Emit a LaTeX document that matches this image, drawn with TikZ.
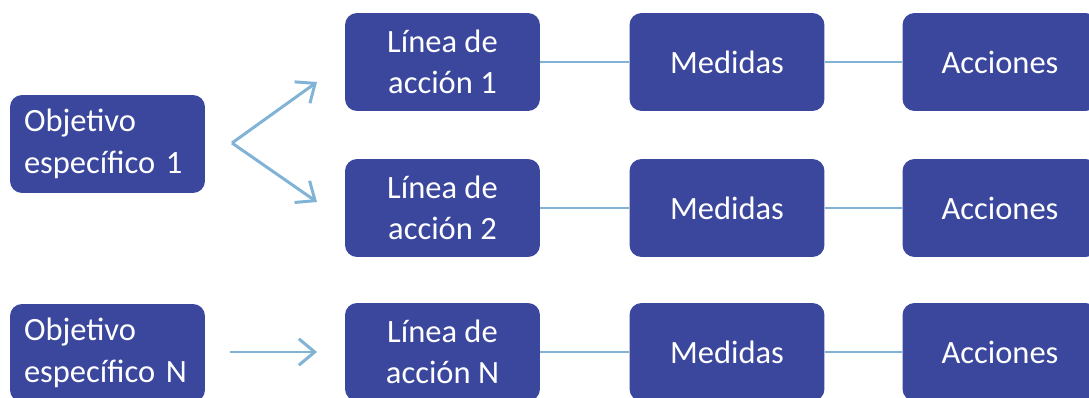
\documentclass[tikz,border=0pt]{standalone}
\usepackage{fontspec}
\setmainfont{Carlito}
\usetikzlibrary{arrows.meta}
\definecolor{boxblue}{HTML}{3B479D}
\definecolor{linkblue}{HTML}{80B3D6}

\begin{document}
\begin{tikzpicture}[
    x=0.02cm, y=-0.02cm,
    box/.style = {fill=boxblue, text=white, rounded corners=0.24cm,
      minimum width=3.9cm, minimum height=1.96cm, align=center,
      inner sep=0pt, font=\fontsize{18.5}{23.6}\selectfont},
    objbox/.style = {box, align=left, text width=3.34cm},
    link/.style = {linkblue, line width=1.7pt},
    arr/.style = {link, -{Straight Barb[length=9pt,width=15pt,line width=1.7pt]}}
  ]
    \clip (0,0) rectangle (1089,398);
    \node[objbox] (obj1) at (107.5,144) {Objetivo\\específico 1};
    \node[objbox] (objN) at (107.5,353) {Objetivo\\específico N};
    \node[box] (lin1) at (442.5,62) {Línea de\\acción 1};
    \node[box] (lin2) at (442.5,208) {Línea de\\acción 2};
    \node[box] (linN) at (442.5,352) {Línea de\\acción N};
    \node[box] (med1) at (727,62) {Medidas};
    \node[box] (med2) at (727,208) {Medidas};
    \node[box] (medN) at (727,352) {Medidas};
    \node[box] (acc1) at (1000,62) {Acciones};
    \node[box] (acc2) at (1000,208) {Acciones};
    \node[box] (accN) at (1000,352) {Acciones};
    % arrows from the objectives
    \coordinate (fork) at (232,143);
    \coordinate (end1) at (317,82);
    \coordinate (end2) at (317,202);
    \coordinate (startN) at (230,352);
    \coordinate (endN) at (317,352);
    \draw[arr] (fork) -- (end1);
    \draw[arr] (fork) -- (end2);
    \draw[arr] (startN) -- (endN);
    % links along each row
    \draw[link] (lin1) -- (med1) (med1) -- (acc1);
    \draw[link] (lin2) -- (med2) (med2) -- (acc2);
    \draw[link] (linN) -- (medN) (medN) -- (accN);
\end{tikzpicture}
\end{document}
